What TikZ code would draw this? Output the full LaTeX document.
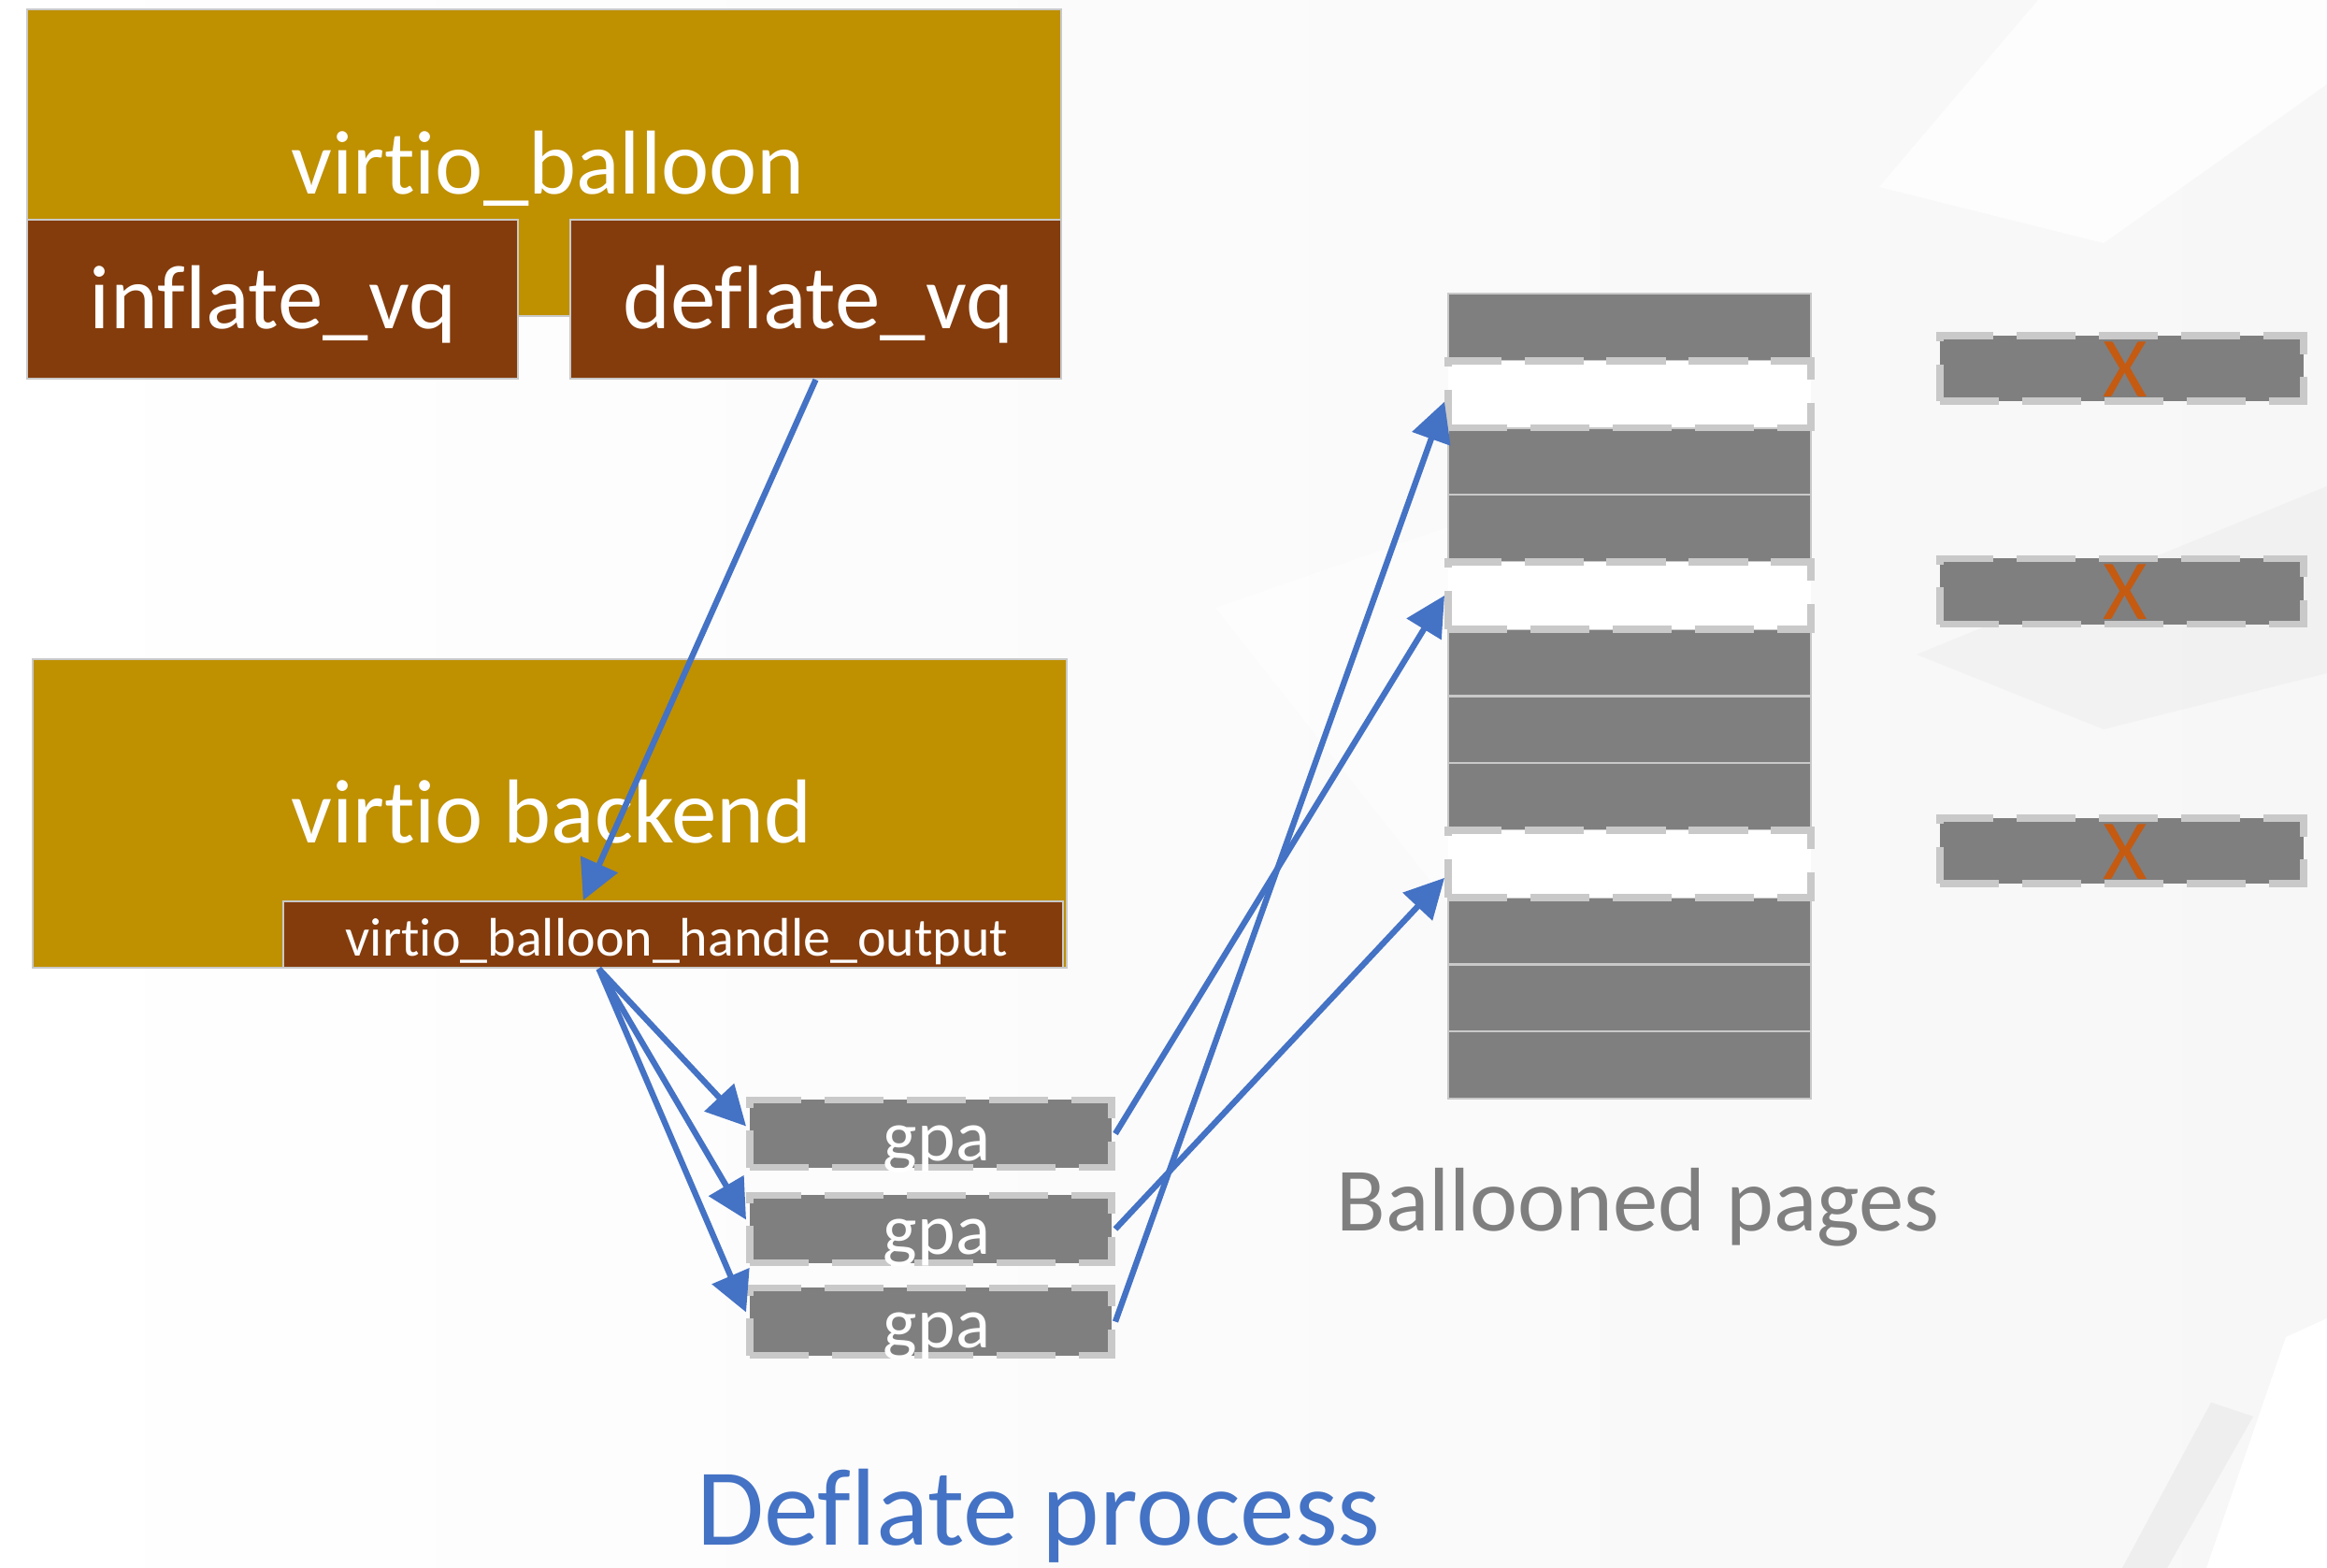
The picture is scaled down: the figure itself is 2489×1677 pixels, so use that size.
\documentclass[tikz,border=0pt]{standalone}
\usepackage{fontspec}
\setmainfont{Carlito}[Ligatures={NoCommon,NoDiscretionary,NoContextual}]
\usetikzlibrary{arrows.meta,calc}

\definecolor{gold}{HTML}{BF9000}
\definecolor{rust}{HTML}{843C0C}
\definecolor{slate}{HTML}{7F7F7F}
\definecolor{rim}{HTML}{C9C9C9}
\definecolor{linkblue}{HTML}{4472C4}
\definecolor{xorange}{HTML}{C55A11}
\definecolor{haze}{HTML}{F7F7F7}
\definecolor{band}{HTML}{EEEEEE}

% keep "t" and "i" as separate glyphs
\newcommand\virt{virt\kern0pt io}

\tikzset{
  outer/.style={draw=rim, line width=0.6pt, fill=gold, inner sep=0, rectangle},
  inner/.style={draw=rim, line width=0.6pt, fill=rust, inner sep=0, rectangle},
  pagebox/.style={draw=rim, line width=0.6pt, fill=slate, inner sep=0, rectangle,
    minimum width=3.88cm, minimum height=0.7175cm},
  freeslot/.style={draw=rim, line width=2.2pt, dash pattern=on 18pt off 7pt, fill=white,
    inner sep=0, rectangle, minimum width=3.88cm, minimum height=0.7175cm},
  gpabox/.style={draw=rim, line width=2.2pt, dash pattern=on 18pt off 7pt, fill=slate,
    inner sep=0, rectangle, minimum width=3.87cm, minimum height=0.72cm},
  gonebox/.style={draw=rim, line width=2.2pt, dash pattern=on 18pt off 7pt, fill=slate,
    inner sep=0, rectangle, minimum width=3.89cm, minimum height=0.70cm},
  lbl/.style={anchor=base, inner sep=0, text=white},
  big/.style={font=\fontsize{27.6}{33}\selectfont},
  link/.style={draw=linkblue, line width=1.8pt, -{Triangle[length=12pt,width=12pt]}},
}

\begin{document}
\begin{tikzpicture}[x=0.01cm,y=-0.01cm]
% canvas with faint background facets
\useasboundingbox (0,0) rectangle (2489,1677);
\shade[left color=white, right color=haze] (0,0) rectangle (2489,1677);
\fill[white, opacity=0.8] (2180,0) -- (2489,0) -- (2489,90) -- (2250,260) -- (2010,200) -- cycle;
\fill[white, opacity=0.5] (1300,650) -- (1560,560) -- (1560,980) -- cycle;
\fill[band, opacity=0.6] (2050,700) -- (2489,520) -- (2489,720) -- (2250,780) -- cycle;
\fill[band] (2270,1677) -- (2365,1500) -- (2410,1515) -- (2318,1677) -- cycle;
\fill[white] (2445,1430) -- (2489,1410) -- (2489,1677) -- (2360,1677) -- cycle;

% guest-side balloon device and its queues
\node[outer, minimum width=11.06cm, minimum height=3.28cm] (balloon) at (582,174) {};
\node[inner, minimum width=5.25cm, minimum height=1.70cm] (inflate) at (291.5,320) {};
\node[inner, minimum width=5.25cm, minimum height=1.70cm] (deflate) at (872.5,320) {};
\node[lbl, big] (balloontxt) at (586,208) {\virt\_balloon};
\node[lbl, big] (inflatetxt) at (292,352) {inflate\_vq};
\node[lbl, big] (deflatetxt) at (875,352) {deflate\_vq};

% host-side backend
\node[outer, minimum width=11.06cm, minimum height=3.30cm] (backend) at (588,870) {};
\node[lbl, big] (backendtxt) at (590,902) {\virt{} backend};
\node[inner, minimum width=8.34cm, minimum height=0.71cm] (handle) at (720,999.5) {};
\node[lbl, font=\fontsize{16.5}{20}\selectfont] (handletxt) at (724,1022) {\virt\_balloon\_handle\_output};

% guest physical addresses taken from the queue
\node[gpabox] (gpa1) at (995.5,1212.5) {};
\node[gpabox] (gpa2) at (995.5,1314.5) {};
\node[gpabox] (gpa3) at (995.5,1413.5) {};
\node[lbl, font=\fontsize{22}{26}\selectfont] (gpatxt1) at (1002,1241) {gpa};
\node[lbl, font=\fontsize{22}{26}\selectfont] (gpatxt2) at (1002,1341) {gpa};
\node[lbl, font=\fontsize{22}{26}\selectfont] (gpatxt3) at (1002,1441) {gpa};

% ballooned pages column: filled rows first, returned slots on top
\node[pagebox] (r1) at (1743,349.9) {};
\node[pagebox] (r2) at (1743,493.4) {};
\node[pagebox] (r3) at (1743,565.1) {};
\node[pagebox] (r4) at (1743,708.6) {};
\node[pagebox] (r5) at (1743,780.4) {};
\node[pagebox] (r6) at (1743,852.1) {};
\node[pagebox] (r7) at (1743,995.6) {};
\node[pagebox] (r8) at (1743,1067.4) {};
\node[pagebox] (r9) at (1743,1139.1) {};
\node[freeslot] (e1) at (1743,421.6) {};
\node[freeslot] (e2) at (1743,636.9) {};
\node[freeslot] (e3) at (1743,923.9) {};

% pages removed from the balloon
\node[gonebox] (x1) at (2269.5,394) {};
\node[gonebox] (x2) at (2269.5,632.5) {};
\node[gonebox] (x3) at (2269.5,910) {};
\node[lbl, text=xorange, font=\fontsize{26}{30}\selectfont] (xt1) at (2273,425) {X};
\node[lbl, text=xorange, font=\fontsize{26}{30}\selectfont] (xt2) at (2273,663) {X};
\node[lbl, text=xorange, font=\fontsize{26}{30}\selectfont] (xt3) at (2273,940) {X};

% captions
\node[lbl, text=slate, font=\fontsize{27.5}{32}\selectfont] (caption) at (1752,1316) {Ballooned pages};
\node[lbl, text=linkblue, font=\fontsize{33.3}{40}\selectfont] (title) at (1111,1652) {Deflate process};

% connectors
\coordinate (hin) at ($(handle.north west)!0.385!(handle.north east)$);
\coordinate (hout) at ($(handle.south west)!0.405!(handle.south east)$);
\draw[link] (deflate.south) -- (hin);
\draw[link] (hout) -- ([yshift=0.08cm]gpa1.west);
\draw[link] (hout) -- ([yshift=0.10cm]gpa2.west);
\draw[link] (hout) -- ([yshift=0.10cm]gpa3.west);
\draw[link] (gpa1.east) -- (e2.west);
\draw[link] (gpa2.east) -- ([yshift=-0.15cm]e3.west);
\draw[link] (gpa3.east) -- ([yshift=-0.08cm]e1.west);
\end{tikzpicture}
\end{document}
